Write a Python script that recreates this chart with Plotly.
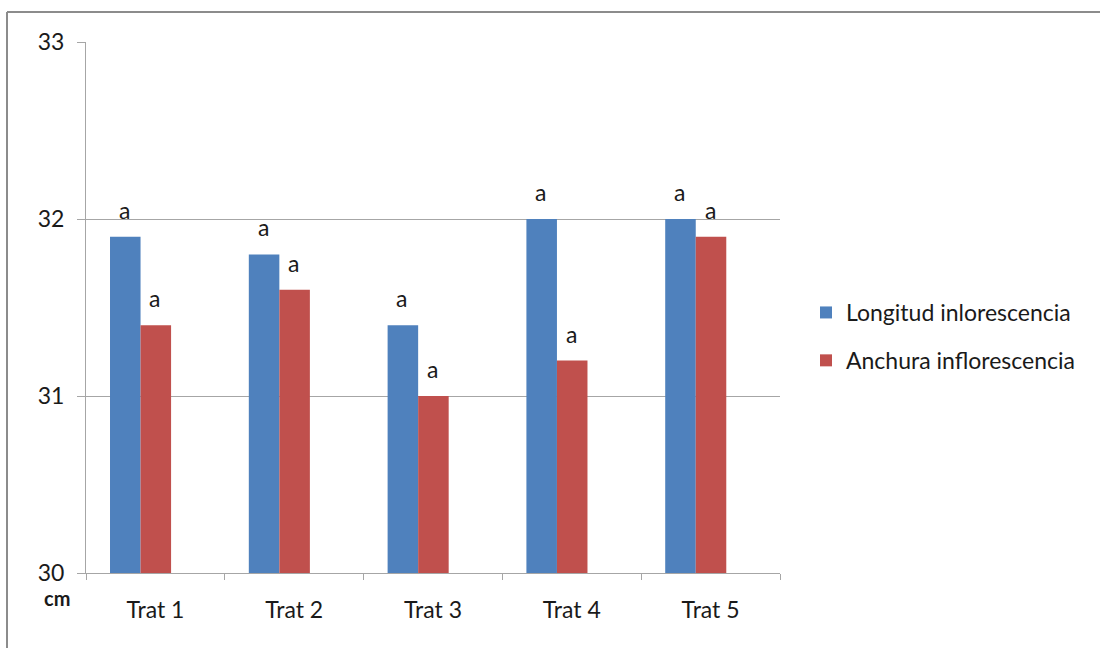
import plotly.graph_objects as go

categories = ["Trat 1", "Trat 2", "Trat 3", "Trat 4", "Trat 5"]
longitud = [31.9, 31.8, 31.4, 32.0, 32.0]
anchura = [31.4, 31.6, 31.0, 31.2, 31.9]
letras_longitud = ["a", "a", "a", "a", "a"]
letras_anchura = ["a", "a", "a", "a", "a"]
y_ticks = [30, 31, 32, 33]

BLUE = "#4f81bd"
RED = "#c0504d"
FONT = "Lato"
TXT = "#1a1a1a"
AXIS = "#a6a6a6"

W, H = 1100, 648
L, R, T, B = 86, 320, 42, 75
plot_w = W - L - R
plot_h = H - T - B
cat_px = plot_w / len(categories)

# bar geometry in category units (each category spans 1 unit)
BAR_W = 0.22
OFF_BLUE = -0.327
OFF_RED = OFF_BLUE + BAR_W

fig = go.Figure()
fig.add_trace(go.Bar(x=categories, y=longitud, name="Longitud inlorescencia",
                     marker=dict(color=BLUE, line=dict(width=0)),
                     width=BAR_W, offset=OFF_BLUE, legendgroup="g1"))
fig.add_trace(go.Bar(x=categories, y=anchura, name="Anchura inflorescencia",
                     marker=dict(color=RED, line=dict(width=0)),
                     width=BAR_W, offset=OFF_RED, legendgroup="g2"))

# significance letters above each bar
annotations = []
for i, cat in enumerate(categories):
    for val, letra, off in ((longitud[i], letras_longitud[i], OFF_BLUE),
                            (anchura[i], letras_anchura[i], OFF_RED)):
        annotations.append(dict(x=cat, y=val, xref="x", yref="y", text=letra,
                                showarrow=False,
                                xshift=(off + BAR_W / 2) * cat_px - 1,
                                yshift=11, yanchor="bottom",
                                font=dict(family=FONT, size=23, color=TXT)))

annotations.append(dict(x=(57 - L) / plot_w, y=(H - B - 598) / plot_h,
                        xref="paper", yref="paper", text="<b>cm</b>",
                        showarrow=False, xanchor="center", yanchor="middle",
                        font=dict(family=FONT, size=20, color=TXT)))

# outer chart frame (left and top edges)
frame_color = "#8c8c8c"
shapes = [
    dict(type="line", xref="paper", yref="paper",
         x0=(7 - L) / plot_w, x1=(W + 5 - L) / plot_w,
         y0=(H - B - 12) / plot_h, y1=(H - B - 12) / plot_h,
         line=dict(color=frame_color, width=2)),
    dict(type="line", xref="paper", yref="paper",
         x0=(7 - L) / plot_w, x1=(7 - L) / plot_w,
         y0=(H - B - 12) / plot_h, y1=(H - B - H - 5) / plot_h,
         line=dict(color=frame_color, width=2)),
]

fig.update_layout(
    width=W, height=H,
    margin=dict(l=L, r=R, t=T, b=B),
    paper_bgcolor="white", plot_bgcolor="white",
    barmode="overlay",
    font=dict(family=FONT, size=23, color=TXT),
    showlegend=True,
    legend=dict(x=(806 - L) / plot_w, y=(H - B - 291) / plot_h,
                xanchor="left", yanchor="top",
                font=dict(family=FONT, size=23, color=TXT),
                tracegroupgap=15, itemwidth=30,
                bgcolor="rgba(0,0,0,0)"),
    xaxis=dict(type="category", showline=True, linecolor=AXIS, linewidth=1,
               ticks="outside", tickson="boundaries", ticklen=6,
               tickcolor=AXIS, showgrid=False, ticklabelstandoff=16,
               tickfont=dict(family=FONT, size=23, color=TXT)),
    yaxis=dict(range=[30, 33], tickvals=y_ticks, showline=True,
               linecolor=AXIS, linewidth=1, ticks="outside", ticklen=8,
               tickcolor=AXIS, showgrid=True, gridcolor=AXIS,
               gridwidth=1, zeroline=False, ticklabelstandoff=8,
               tickfont=dict(family=FONT, size=23, color=TXT)),
    annotations=annotations,
    shapes=shapes,
)

fig.write_html("out.html")
